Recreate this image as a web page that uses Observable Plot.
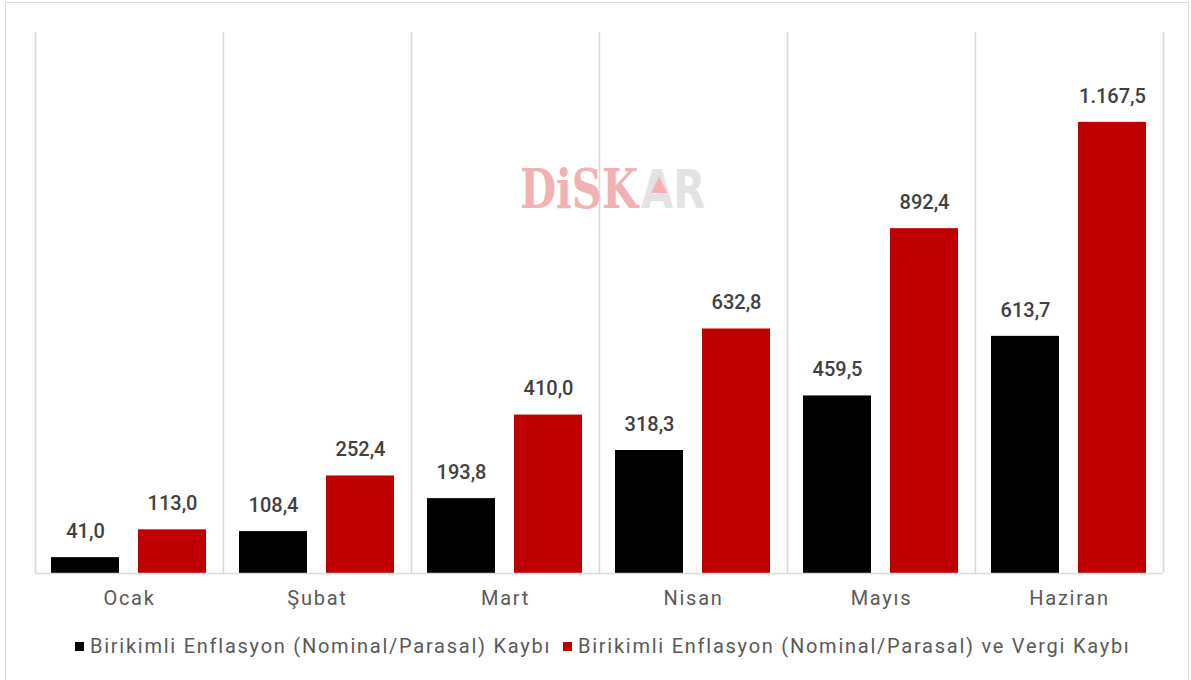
<!DOCTYPE html>
<html>
<head>
<meta charset="utf-8">
<script src="https://cdn.jsdelivr.net/npm/d3@7"></script>
<script src="https://cdn.jsdelivr.net/npm/@observablehq/plot@0.6"></script>
<style>
  html, body { margin: 0; padding: 0; background: #fff; }
  #wrap { position: relative; width: 1191px; height: 680px; overflow: hidden; font-family: Roboto, "Noto Sans", sans-serif; }
  #border { position: absolute; left: 5px; top: 2px; width: 1184px; height: 700px; border: 1px solid #d9d9d9; box-sizing: border-box; }
  #chart { position: absolute; left: 0; top: 0; }
  #chart svg g[aria-label="x-axis tick label"] text { letter-spacing: 1.75px; }
  #legend { position: absolute; top: 634px; left: 0; width: 1191px; font-size: 20px; letter-spacing: 1.75px; color: #595959; }
  .item { position: absolute; top: 0; white-space: nowrap; }
  .sw { display: inline-block; width: 9px; height: 9px; margin-right: 6px; vertical-align: 2px; }
  #wm { position: absolute; left: 520px; top: 162px; line-height: 54px; font-weight: bold; font-size: 54px; white-space: nowrap; transform: scaleX(0.77); transform-origin: 0 0; }
  #wm .a { color: #f2b1b3; font-family: "DejaVu Serif", serif; }
  #wm .b { color: #e3e3e3; font-family: "DejaVu Sans", sans-serif; margin-left: 4px; }
  #tri { position: absolute; left: 651px; top: 176px; width: 0; height: 0; border-left: 8px solid transparent; border-right: 8px solid transparent; border-bottom: 17px solid #f2b1b3; }
</style>
</head>
<body>
<div id="wrap">
  <div id="border"></div>
  <div id="chart"></div>
  <div id="wm"><span class="a">DiSK</span><span class="b">AR</span></div>
  <div id="tri"></div>
  <div id="legend"></div>
</div>
<script>
const months = ["Ocak", "Şubat", "Mart", "Nisan", "Mayıs", "Haziran"];
const enflasyonKaybi = [41.0, 108.4, 193.8, 318.3, 459.5, 613.7];
const enflasyonVergiKaybi = [113.0, 252.4, 410.0, 632.8, 892.4, 1167.5];
const seriesNames = [
  "Birikimli Enflasyon (Nominal/Parasal) Kaybı",
  "Birikimli Enflasyon (Nominal/Parasal) ve Vergi Kaybı"
];
const seriesColors = ["#000000", "#c00000"];

const tr = d3.formatLocale({decimal: ",", thousands: ".", grouping: [3], currency: ["", ""]});
const fmt = tr.format(",.1f");

const data1 = months.map((m, i) => ({month: m, value: enflasyonKaybi[i]}));
const data2 = months.map((m, i) => ({month: m, value: enflasyonVergiKaybi[i]}));

const W = 1191, H = 625;
const mL = 35, mR = 28;
const band = (W - mL - mR) / months.length;

const plot = Plot.plot({
  width: W,
  height: H,
  marginLeft: mL,
  marginRight: mR,
  marginTop: 32,
  marginBottom: H - 573,
  style: {fontFamily: "Roboto, 'Noto Sans', sans-serif", background: "transparent"},
  x: {domain: months, padding: 0, label: null},
  y: {domain: [0, 1400], axis: null},
  marks: [
    Plot.ruleX(months, {x: d => d, dx: -band / 2, stroke: "#d9d9d9", strokeWidth: 1.6}),
    Plot.ruleX([months[months.length - 1]], {x: d => d, dx: band / 2, stroke: "#d9d9d9", strokeWidth: 1.6}),
    Plot.barY(data1, {x: "month", y: "value", fill: seriesColors[0], insetLeft: 16, insetRight: band - 16 - 68}),
    Plot.barY(data2, {x: "month", y: "value", fill: seriesColors[1], insetLeft: 103, insetRight: band - 103 - 68}),
    Plot.ruleY([0], {stroke: "#d9d9d9", strokeWidth: 1.6}),
    Plot.text(data1, {x: "month", y: "value", text: d => fmt(d.value), dx: 50 - band / 2, dy: -26, fontSize: 20, fontWeight: 500, fill: "#404040"}),
    Plot.text(data2, {x: "month", y: "value", text: d => fmt(d.value), dx: 137 - band / 2, dy: -26, fontSize: 20, fontWeight: 500, fill: "#404040"}),
    Plot.axisX({tickSize: 0, tickPadding: 17, fontSize: 20, fill: "#595959", label: null})
  ]
});
document.getElementById("chart").appendChild(plot);

const legend = document.getElementById("legend");
const lefts = [75, 563];
seriesNames.forEach((name, i) => {
  const d = document.createElement("div");
  d.className = "item";
  d.style.left = lefts[i] + "px";
  const sw = document.createElement("span");
  sw.className = "sw";
  sw.style.background = seriesColors[i];
  d.appendChild(sw);
  d.appendChild(document.createTextNode(name));
  legend.appendChild(d);
});
</script>
</body>
</html>
